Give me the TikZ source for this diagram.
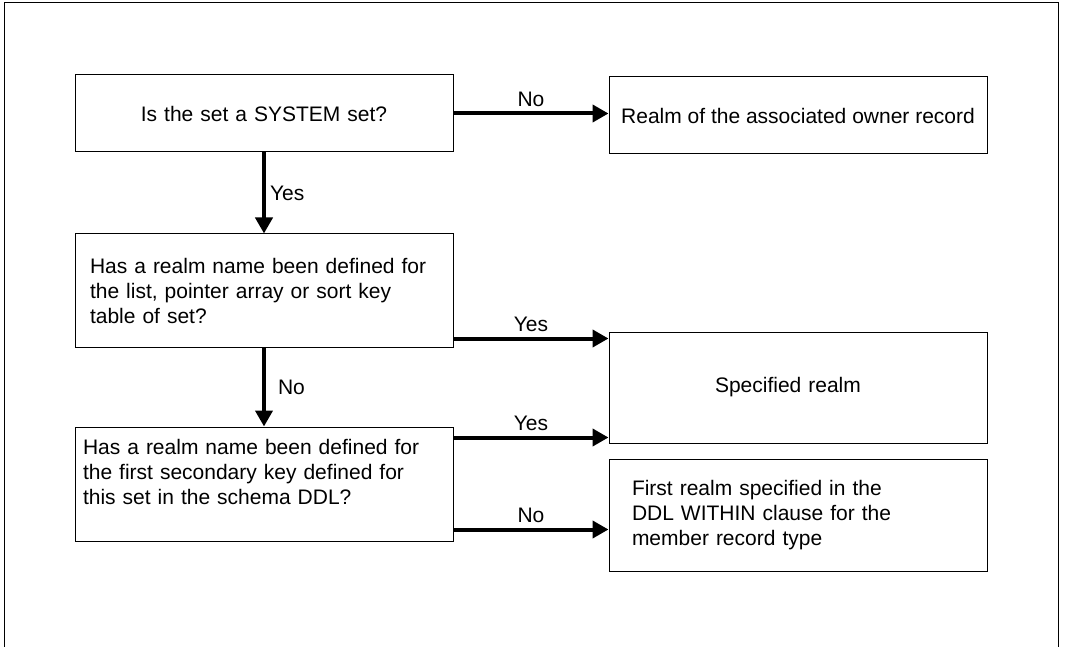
\documentclass[tikz,border=0pt]{standalone}
\usepackage{fontspec}
\setmainfont{Liberation Sans}
\usetikzlibrary{arrows.meta}

\begin{document}
\begin{tikzpicture}[x=1pt, y=-1pt,
        every node/.style={font=\fontsize{21}{25}\selectfont},
        box/.style={draw, line width=1pt, minimum width=378pt, inner ysep=0pt},
        flow/.style={line width=4pt, -{Triangle[length=16pt, width=17pt]}},
        lbl/.style={inner sep=0pt}]
    \useasboundingbox (0,0) rectangle (1066,647);
    % outer frame, open at the bottom
    \draw[line width=1pt] (4,647) -- (4,3) -- (1058,3) -- (1058,647);
    % questions on the left
    \node[box, minimum height=77pt, inner xsep=15pt, text width=348pt, align=center] (sys) at (264,113.5)
        {Is the set a SYSTEM set?};
    \node[box, minimum height=113pt, inner xsep=15pt, text width=348pt, align=left] (listq) at (264,290.5)
        {Has a realm name been defined for\\the list, pointer array or sort key\\table of set?};
    \node[box, minimum height=114pt, inner xsep=8pt, text width=362pt, align=left] (keyq) at (264,484)
        {Has a realm name been defined for\\the first secondary key defined for\\this set in the schema DDL?\\ \mbox{}};
    % answers on the right
    \node[box, minimum height=77pt, inner xsep=10pt] (owner) at (798,115.5)
        {Realm of the associated owner record};
    \node[box, minimum height=111pt, inner xsep=106pt, text width=166pt, align=left] (spec) at (798,387.5)
        {Specified realm};
    \node[box, minimum height=112pt, inner xsep=23pt, text width=332pt, align=left] (first) at (798,515)
        {First realm specified in the\\DDL WITHIN clause for the\\member record type};
    % where the side arrows leave the boxes
    \coordinate (y1) at ([yshift=9pt]listq.south east);
    \coordinate (y2) at ([yshift=-11pt]keyq.north east);
    \coordinate (n2) at ([yshift=12pt]keyq.south east);
    % connectors
    \draw[flow] (sys.east) -- (sys.east -| owner.west) node[lbl, midway, above=5pt] {No};
    \draw[flow] (sys.south) -- (listq.north) node[lbl, midway, right=4pt] {Yes};
    \draw[flow] (y1) -- (y1 -| spec.west) node[lbl, midway, above=5pt] {Yes};
    \draw[flow] (listq.south) -- (keyq.north) node[lbl, midway, right=12pt] {No};
    \draw[flow] (y2) -- (y2 -| spec.west) node[lbl, midway, above=5pt] {Yes};
    \draw[flow] (n2) -- (n2 -| first.west) node[lbl, midway, above=5pt] {No};
\end{tikzpicture}
\end{document}
